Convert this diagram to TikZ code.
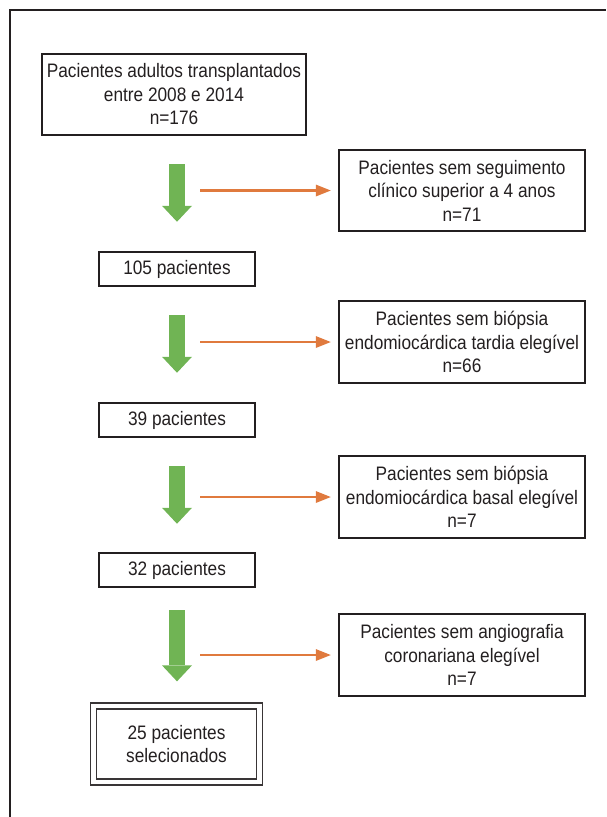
\documentclass[tikz,border=0pt]{standalone}
\usepackage{fontspec}
\setmainfont{Liberation Sans}[FakeStretch=0.885]
\usetikzlibrary{arrows.meta}
\definecolor{boxline}{RGB}{35,31,32}
\definecolor{flowgreen}{RGB}{112,180,84}
\definecolor{exclorange}{RGB}{224,122,62}
\tikzset{
  stage/.style={draw=boxline, line width=2.5pt, align=center, text=boxline,
    font=\fontsize{19.5}{23.5}\selectfont, inner sep=0pt},
  flow/.style={draw=flowgreen, line width=16pt,
    -{Triangle[width=30pt, length=16pt, line width=0pt]}},
  exclusion/.style={draw=exclorange, line width=2.8pt, shorten >=7pt,
    -{Triangle[width=12pt, length=15pt, line width=0pt]}}
}
\begin{document}
\begin{tikzpicture}[x=1pt, y=-1pt]
  \useasboundingbox (0,0) rectangle (606,817);
  \draw[boxline, line width=1.5pt] (10,817) -- (10,10) -- (606,10);

  \node[stage, minimum width=264pt, minimum height=81pt] (total) at (174,94.5)
    {Pacientes adultos transplantados\\entre 2008 e 2014\\n=176};
  \node[stage, minimum width=246pt, minimum height=81pt] (ex1) at (462,190.5)
    {Pacientes sem seguimento\\clínico superior a 4 anos\\n=71};
  \node[stage, minimum width=156pt, minimum height=34pt] (n105) at (177,269) {105 pacientes};
  \node[stage, minimum width=246pt, minimum height=82pt] (ex2) at (462,342)
    {Pacientes sem biópsia\\endomiocárdica tardia elegível\\n=66};
  \node[stage, minimum width=156pt, minimum height=34pt] (n39) at (177,420) {39 pacientes};
  \node[stage, minimum width=246pt, minimum height=82pt] (ex3) at (462,497)
    {Pacientes sem biópsia\\endomiocárdica basal elegível\\n=7};
  \node[stage, minimum width=156pt, minimum height=34pt] (n32) at (177,570) {32 pacientes};
  \node[stage, minimum width=246pt, minimum height=82pt] (ex4) at (462,655)
    {Pacientes sem angiografia\\coronariana elegível\\n=7};
  \node[stage, double, double distance=4.5pt, line width=1.3pt, draw=boxline!90,
    minimum width=166pt, minimum height=76pt] (final) at (176.5,744)
    {25 pacientes\\selecionados};

  \coordinate (o1) at (200,190.5);
  \coordinate (o2) at (200,342);
  \coordinate (o3) at (200,497);
  \coordinate (o4) at (200,655);

  \begin{scope}
    \draw[flow, shorten <=28pt, shorten >=29pt] (total.south -| n105.north) -- (n105.north);
    \draw[flow, shorten <=28pt, shorten >=29pt] (n105.south) -- (n39.north);
    \draw[flow, shorten <=28pt, shorten >=28pt] (n39.south) -- (n32.north);
    \draw[flow, shorten <=22pt, shorten >=24pt] (n32.south) -- (final.north -| n32.south);
  \end{scope}
  \begin{scope}
    \draw[exclusion] (o1) -- (ex1);
    \draw[exclusion] (o2) -- (ex2);
    \draw[exclusion] (o3) -- (ex3);
    \draw[exclusion] (o4) -- (ex4);
  \end{scope}
\end{tikzpicture}
\end{document}
